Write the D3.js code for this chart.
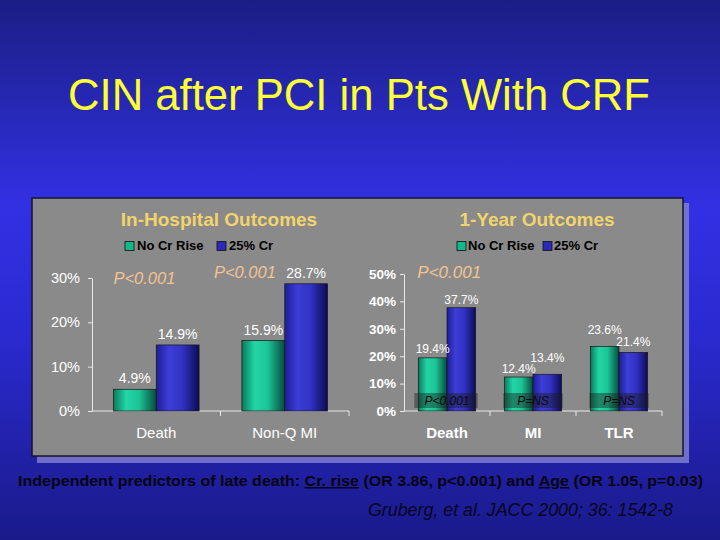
<!DOCTYPE html>
<html><head><meta charset="utf-8">
<script src="https://cdn.jsdelivr.net/npm/d3@7"></script>
<style>html,body{margin:0;padding:0;background:#1b1f86;}svg{display:block;}</style>
</head><body>
<svg id="c" width="720" height="540"></svg>
<script>
// ---- data ----
const title = "CIN after PCI in Pts With CRF";
const seriesNames = ["No Cr Rise", "25% Cr"];
const leftTitle = "In-Hospital Outcomes";
const leftCategories = ["Death", "Non-Q MI"];
const leftNoRise = [4.9, 15.9];
const leftCr = [14.9, 28.7];
const leftTicks = [0, 10, 20, 30];
const leftPValues = ["P<0.001", "P<0.001"];
const rightTitle = "1-Year Outcomes";
const rightCategories = ["Death", "MI", "TLR"];
const rightNoRise = [19.4, 12.4, 23.6];
const rightCr = [37.7, 13.4, 21.4];
const rightTicks = [0, 10, 20, 30, 40, 50];
const rightTopP = "P<0.001";
const rightBoxP = ["P<0.001", "P=NS", "P=NS"];
const footerParts = [
  {t: "Independent predictors of late death: ", u: false},
  {t: "Cr. rise", u: true},
  {t: " (OR 3.86, p<0.001) and ", u: false},
  {t: "Age", u: true},
  {t: " (OR 1.05, p=0.03)", u: false}
];
const citation = "Gruberg, et al. JACC 2000; 36: 1542-8";

// label lift above bar top (style, px), per series per category
const rightLift = [[5, 4, 12], [4, 12, 6]];

// ---- drawing ----
const svg = d3.select("#c");
const defs = svg.append("defs");
const bg = defs.append("linearGradient").attr("id","bg").attr("x1",0).attr("y1",0).attr("x2",0).attr("y2",1);
[[0,"#1b1e84"],[0.38,"#3131e4"],[0.62,"#2a2ad0"],[1,"#1a1a8a"]].forEach(s=>bg.append("stop").attr("offset",s[0]).attr("stop-color",s[1]));
function cyl(id, stops){
  const g = defs.append("linearGradient").attr("id",id).attr("x1",0).attr("y1",0).attr("x2",1).attr("y2",0);
  stops.forEach(s=>g.append("stop").attr("offset",s[0]).attr("stop-color",s[1]));
}
cyl("gG", [[0,"#0b7a5c"],[0.3,"#22d6a6"],[0.6,"#1cc496"],[1,"#064c3c"]]);
cyl("gB", [[0,"#1e1e96"],[0.3,"#3d3dd8"],[0.6,"#3232c4"],[1,"#0c0c58"]]);
const fills = ["url(#gG)","url(#gB)"];
const legendFills = ["#14b888","#2a2ab8"];

svg.append("rect").attr("width",720).attr("height",540).attr("fill","url(#bg)");

svg.append("text").attr("x",359).attr("y",110).attr("text-anchor","middle")
  .attr("font-family","Liberation Sans, Arial, sans-serif").attr("font-size",44)
  .attr("textLength",582).attr("lengthAdjust","spacingAndGlyphs")
  .attr("fill","#ffff33").text(title);

// panel
svg.append("rect").attr("x",37).attr("y",203).attr("width",652).attr("height",260).attr("fill","#7e7ed0").attr("opacity",0.85);
svg.append("rect").attr("x",32).attr("y",198).attr("width",651).attr("height",258).attr("fill","#8a8a8a").attr("stroke","#141430").attr("stroke-width",1.5);

const white = "#ffffff";
const fontF = "Liberation Sans, Arial, sans-serif";

function legend(x0, y, sq2x, textGap){
  seriesNames.forEach((n,i)=>{
    const x = i===0 ? x0 : sq2x;
    svg.append("rect").attr("x",x).attr("y",y-8.5).attr("width",9).attr("height",9)
      .attr("fill",legendFills[i]).attr("stroke","#111").attr("stroke-width",0.8);
    svg.append("text").attr("x",x+textGap).attr("y",y).attr("font-family",fontF)
      .attr("font-weight","bold").attr("font-size",13).attr("fill","#000").text(n);
  });
}

function chart(cfg){
  const x0 = d3.scaleBand().domain(cfg.cats).range([cfg.xl, cfg.xr]).padding(0);
  const x1 = d3.scaleBand().domain([0,1]).range([0, x0.bandwidth()]).paddingInner(0).paddingOuter(0.5);
  const y = d3.scaleLinear().domain([0, cfg.max]).range([cfg.y0, cfg.ytop]);
  const g = svg.append("g");
  const ya = g.append("g").attr("transform",`translate(${cfg.xl},0)`)
    .call(d3.axisLeft(y).tickValues(cfg.ticks).tickFormat(d=>d+"%").tickSize(4).tickSizeOuter(0).tickPadding(cfg.tickPad));
  ya.select(".domain").attr("stroke","#e8e8e8");
  ya.selectAll(".tick line").attr("stroke","#e8e8e8");
  ya.selectAll(".tick text").attr("fill",white).attr("font-family",fontF)
    .attr("font-size",cfg.tickFS).attr("font-weight",cfg.bold?"bold":"normal");
  const xa = g.append("g").attr("transform",`translate(0,${cfg.y0})`);
  xa.append("line").attr("x1",cfg.xl).attr("x2",cfg.xr).attr("y1",0).attr("y2",0).attr("stroke","#e8e8e8");
  cfg.cats.forEach(c=>{
    const xe = x0(c)+x0.bandwidth();
    xa.append("line").attr("x1",xe).attr("x2",xe).attr("y1",0).attr("y2",5).attr("stroke","#e8e8e8");
    xa.append("text").attr("x",x0(c)+x0.bandwidth()/2).attr("y",27).attr("text-anchor","middle")
      .attr("font-family",fontF).attr("font-size",15).attr("font-weight",cfg.bold?"bold":"normal")
      .attr("fill",white).text(c);
  });
  const series = [cfg.s0, cfg.s1];
  series.forEach((vals,si)=>{
    vals.forEach((v,ci)=>{
      const c = cfg.cats[ci];
      const bx = x0(c)+x1(si);
      g.append("rect").attr("x",bx).attr("y",y(v)).attr("width",x1.bandwidth()).attr("height",y(0)-y(v))
        .attr("fill",fills[si]).attr("stroke","#161616").attr("stroke-width",0.7);
    });
  });
  series.forEach((vals,si)=>{
    vals.forEach((v,ci)=>{
      const c = cfg.cats[ci];
      const bx = x0(c)+x1(si)+x1.bandwidth()/2;
      const lift = typeof cfg.lift === "number" ? cfg.lift : cfg.lift[si][ci];
      g.append("text").attr("x",bx).attr("y",y(v)-lift).attr("text-anchor","middle")
        .attr("font-family",fontF).attr("font-size",cfg.valFS).attr("fill",white)
        .attr("font-weight",cfg.valBold?"bold":"normal").text(v.toFixed(1)+"%");
    });
  });
  return {x0,x1,y};
}

// left chart
svg.append("text").attr("x",219).attr("y",226).attr("text-anchor","middle").attr("font-family",fontF)
  .attr("font-weight","bold").attr("font-size",19).attr("fill","#f2d46c").text(leftTitle);
legend(125, 250, 217, 12);
const L = chart({cats:leftCategories, s0:leftNoRise, s1:leftCr, max:30, ticks:leftTicks,
  xl:92, xr:349, y0:411, ytop:278, tickPad:8, tickFS:14.5, bold:false, valFS:14, valBold:false, lift:6});
const pColor = "#f3c392";
leftPValues.forEach((p,i)=>{
  const c = leftCategories[i];
  const xs = i===0 ? L.x0(c)+L.x1(0) : L.x0(c)+L.x1(0)-28;
  const yy = i===0 ? L.y(30)+6 : L.y(leftCr[1])-6;
  svg.append("text").attr("x",xs).attr("y",yy).attr("font-family",fontF).attr("font-style","italic")
    .attr("font-size",16.5).attr("fill",pColor).text(p);
});

// right chart
svg.append("text").attr("x",537).attr("y",226).attr("text-anchor","middle").attr("font-family",fontF)
  .attr("font-weight","bold").attr("font-size",19).attr("fill","#f2d46c").text(rightTitle);
legend(457, 250, 543, 11);
const R = chart({cats:rightCategories, s0:rightNoRise, s1:rightCr, max:50, ticks:rightTicks,
  xl:404, xr:662, y0:411, ytop:274, tickPad:4, tickFS:13.5, bold:true, valFS:12, valBold:false, lift:rightLift});
svg.append("text").attr("x",R.x0("Death")+R.x1(0)-1).attr("y",278).attr("font-family",fontF).attr("font-style","italic")
  .attr("font-size",17).attr("fill",pColor).text(rightTopP);
rightBoxP.forEach((p,i)=>{
  const c = rightCategories[i];
  const bx = R.x0(c)+R.x1(0) - (i===0?4:1);
  const bw = R.x1.bandwidth()*2 + (i===0?6:2);
  svg.append("rect").attr("x",bx).attr("y",393).attr("width",bw).attr("height",15)
    .attr("fill","#1a1a1a").attr("opacity",0.42);
  svg.append("text").attr("x",R.x0(c)+R.x0.bandwidth()/2).attr("y",405).attr("text-anchor","middle")
    .attr("font-family",fontF).attr("font-style","italic").attr("font-size",12).attr("fill","#0a0a0a").text(p);
});

// footer
const ft = svg.append("text").attr("x",18).attr("y",486).attr("font-family","Liberation Sans Narrow, Arial Narrow, Liberation Sans, sans-serif")
  .attr("font-weight","bold").attr("font-size",15).attr("fill","#050510")
  .attr("textLength",685).attr("lengthAdjust","spacingAndGlyphs");
footerParts.forEach(p=>{
  ft.append("tspan").attr("text-decoration",p.u?"underline":null).text(p.t);
});
svg.append("text").attr("x",368).attr("y",516).attr("font-family","Liberation Sans Narrow, Arial Narrow, Liberation Sans, sans-serif")
  .attr("font-style","italic").attr("font-size",18).attr("fill","#06061e")
  .attr("textLength",305).attr("lengthAdjust","spacingAndGlyphs").text(citation);
</script>
</body></html>
